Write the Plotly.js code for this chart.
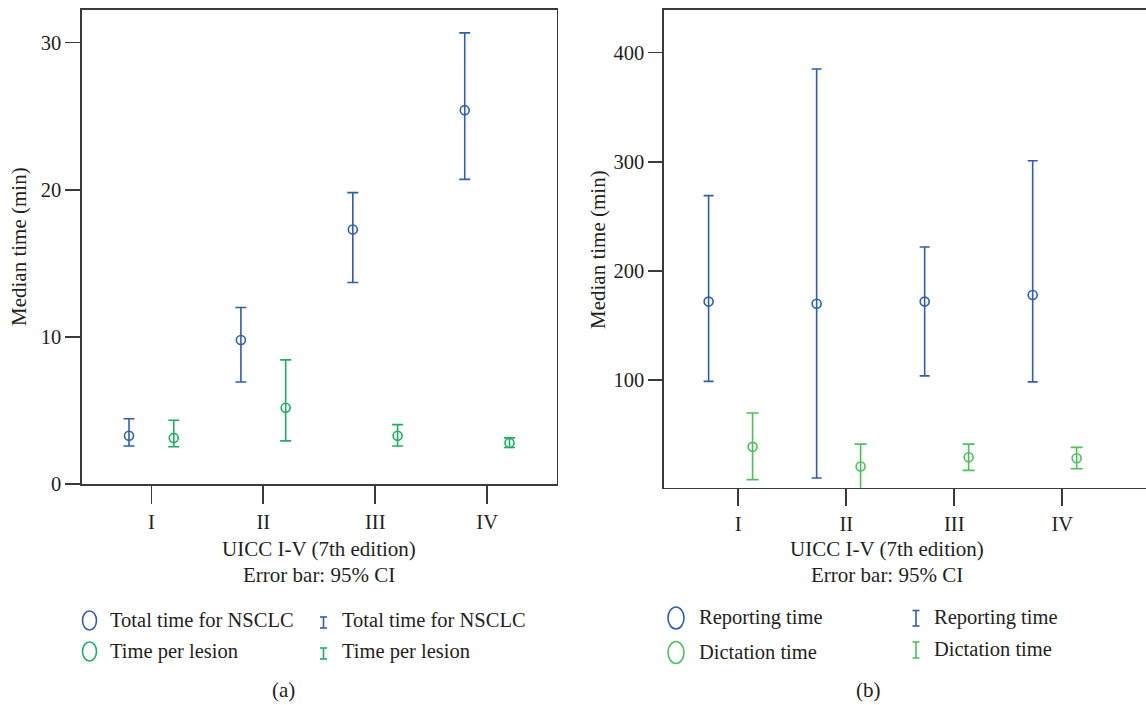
<!DOCTYPE html>
<html>
<head>
<meta charset="utf-8">
<script src="https://cdn.plot.ly/plotly-3.0.1.min.js"></script>
<style>html,body{margin:0;padding:0;background:#fff;}#chart{width:1146px;height:705px;}</style>
</head>
<body>
<div id="chart"></div>
<script>
// ---- data ----
const stages = ['I', 'II', 'III', 'IV'];

// panel (a)
const totalMedian = [3.3, 9.8, 17.3, 25.4];
const totalLower  = [2.6, 6.95, 13.7, 20.7];
const totalUpper  = [4.45, 12.0, 19.8, 30.65];
const lesionMedian = [3.15, 5.2, 3.3, 2.8];
const lesionLower  = [2.55, 2.95, 2.6, 2.5];
const lesionUpper  = [4.35, 8.45, 4.05, 3.15];

// panel (b)
const reportMedian = [172, 170, 172, 178];
const reportLower  = [99, 10.5, 104, 98.5];
const reportUpper  = [269, 385, 222, 301];
const dictMedian = [39, 21, 29.5, 28.5];
const dictLower  = [9, 0, 17.5, 19];
const dictUpper  = [70, 41.5, 41.5, 38.5];

const yTicksA = [0, 10, 20, 30];
const yTicksB = [100, 200, 300, 400];

// ---- style ----
const W = 1146, H = 705;
const BLUE = '#2f5db5';
const GREEN_A = '#19b062';
const GREEN_B = '#4cc05a';
const AX = '#3a3a3a';
const TXT = '#231f20';
const FONT = 'Liberation Serif, Times New Roman, serif';
const px = x => x / W;
const py = y => 1 - y / H;
const idx = stages.map((_, i) => i);

function pointTrace(med, lo, hi, offset, color, xa, ya, capw) {
  return {
    type: 'scatter', mode: 'markers',
    x: idx.map(i => i + offset), y: med,
    xaxis: xa, yaxis: ya, showlegend: false, cliponaxis: true,
    marker: {symbol: 'circle-open', size: 9, color: color, line: {color: color, width: 1.6}},
    error_y: {type: 'data', symmetric: false,
      array: med.map((m, i) => hi[i] - m),
      arrayminus: med.map((m, i) => m - lo[i]),
      color: color, thickness: 1.6, width: capw}
  };
}

const traces = [
  pointTrace(totalMedian, totalLower, totalUpper, -0.2, BLUE, 'x', 'y', 5.5),
  pointTrace(lesionMedian, lesionLower, lesionUpper, 0.2, GREEN_A, 'x', 'y', 5.5),
  pointTrace(reportMedian, reportLower, reportUpper, -0.274, BLUE, 'x2', 'y2', 5),
  pointTrace(dictMedian, dictLower, dictUpper, 0.133, GREEN_B, 'x2', 'y2', 6)
];

const axisBase = {
  showgrid: false, zeroline: false, showline: true, linecolor: AX, linewidth: 1.6,
  ticks: 'outside', tickcolor: AX, tickwidth: 1.6,
  tickfont: {family: FONT, size: 20.5, color: TXT}
};

const annotations = [];
function ann(text, x, y, opts) {
  annotations.push(Object.assign({text: text, x: px(x), y: py(y), xref: 'paper', yref: 'paper',
    xanchor: 'center', yanchor: 'middle',
    showarrow: false, font: {family: FONT, size: 21, color: TXT}}, opts || {}));
}
// axis titles
ann('Median time (min)', 19, 247, {textangle: -90});
ann('Median time (min)', 598, 250, {textangle: -90});
ann('UICC I-V (7th edition)', 319, 549);
ann('Error bar: 95% CI', 319, 575);
ann('UICC I-V (7th edition)', 887, 549);
ann('Error bar: 95% CI', 887, 575);
// captions
ann('(a)', 283, 690);
ann('(b)', 868, 690);

const shapes = [];
function ellipse(cx, cy, w, h, color) {
  shapes.push({type: 'circle', xref: 'paper', yref: 'paper',
    x0: px(cx - w / 2), x1: px(cx + w / 2), y0: py(cy + h / 2), y1: py(cy - h / 2),
    line: {color: color, width: 1.6}});
}
function ebar(cx, y0, y1, w, color) {
  const l = {color: color, width: 1.6};
  shapes.push({type: 'line', xref: 'paper', yref: 'paper', x0: px(cx), x1: px(cx), y0: py(y0), y1: py(y1), line: l});
  shapes.push({type: 'line', xref: 'paper', yref: 'paper', x0: px(cx - w / 2), x1: px(cx + w / 2), y0: py(y0), y1: py(y0), line: l});
  shapes.push({type: 'line', xref: 'paper', yref: 'paper', x0: px(cx - w / 2), x1: px(cx + w / 2), y0: py(y1), y1: py(y1), line: l});
}
const LEG = {family: FONT, size: 20.5, color: TXT};
// legend (a)
ellipse(89.5, 620.5, 14, 19, BLUE);
ellipse(89.5, 651.5, 14, 19, GREEN_A);
ann('Total time for NSCLC', 108, 620, {xanchor: 'left', font: LEG});
ann('Time per lesion', 108, 651, {xanchor: 'left', font: LEG});
ebar(323.5, 617, 628, 7, BLUE);
ebar(323.5, 648, 659, 7, GREEN_A);
ann('Total time for NSCLC', 340, 620, {xanchor: 'left', font: LEG});
ann('Time per lesion', 340, 651, {xanchor: 'left', font: LEG});
// legend (b)
ellipse(676, 618, 16, 22, BLUE);
ellipse(676, 652.5, 16, 22, GREEN_B);
ann('Reporting time', 697, 617, {xanchor: 'left', font: LEG});
ann('Dictation time', 697, 652, {xanchor: 'left', font: LEG});
ebar(916, 610.5, 626, 7, BLUE);
ebar(916, 642, 658, 7, GREEN_B);
ann('Reporting time', 932, 617, {xanchor: 'left', font: LEG});
ann('Dictation time', 932, 649, {xanchor: 'left', font: LEG});

const layout = {
  width: W, height: H,
  margin: {l: 0, r: 0, t: 0, b: 0, autoexpand: false},
  paper_bgcolor: '#fff', plot_bgcolor: '#fff',
  showlegend: false,
  xaxis: Object.assign({}, axisBase, {domain: [px(82), px(556.5)], range: [-0.62, 3.62],
    tickvals: idx, ticktext: stages, ticklen: 18, mirror: true, anchor: 'y'}),
  yaxis: Object.assign({}, axisBase, {domain: [py(484.3), py(10)], range: [0, 32.2],
    tickvals: yTicksA, ticklen: 15, mirror: true, anchor: 'x'}),
  xaxis2: Object.assign({}, axisBase, {domain: [px(664), 1], range: [-0.687, 3.775],
    tickvals: idx, ticktext: stages, ticklen: 17, mirror: true, anchor: 'y2'}),
  yaxis2: Object.assign({}, axisBase, {domain: [py(487.7), py(10)], range: [1.6, 439],
    tickvals: yTicksB, ticklen: 14, mirror: false, anchor: 'x2'}),
  annotations: annotations,
  shapes: shapes
};

Plotly.newPlot('chart', traces, layout, {displayModeBar: false, staticPlot: true});
</script>
</body>
</html>
